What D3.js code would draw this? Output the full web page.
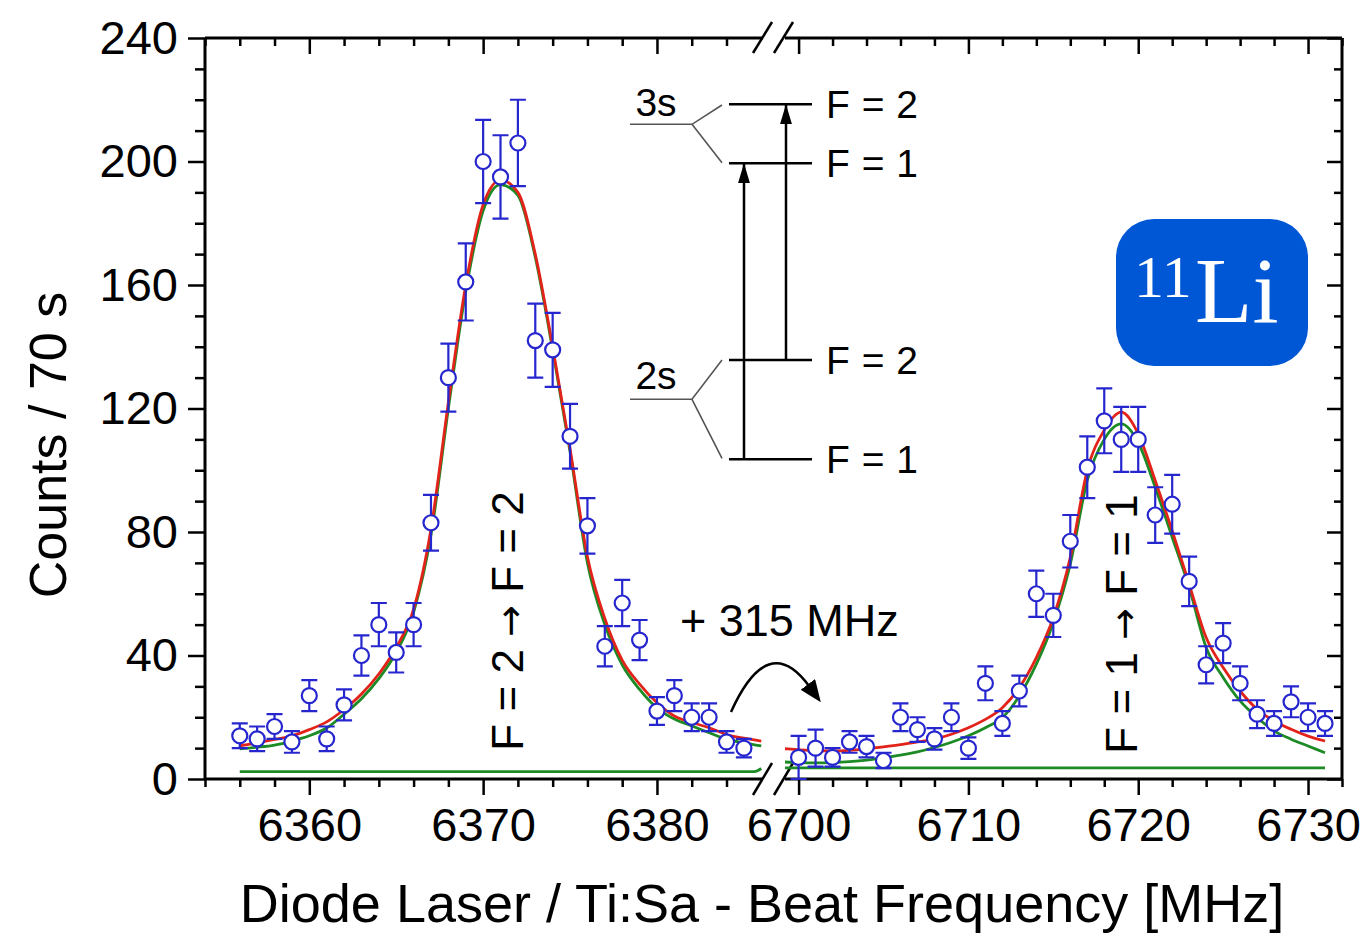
<!DOCTYPE html>
<html>
<head>
<meta charset="utf-8">
<script src="https://cdn.jsdelivr.net/npm/d3@7"></script>
<style>
  body { margin: 0; background: #fff; }
  svg { display: block; font-family: 'Liberation Sans', Arial, sans-serif; }
</style>
</head>
<body>
<div id="chart"></div>
<script>
// measured spectrum, left part (F=2 -> F=2)
const freqLeft = [6356, 6357, 6358, 6359, 6360, 6361, 6362, 6363, 6364, 6365, 6366, 6367, 6368, 6369, 6370,
  6371, 6372, 6373, 6374, 6375, 6376, 6377, 6378, 6379, 6380, 6381, 6382, 6383, 6384, 6385];
const countsLeft = [14, 13, 17, 12, 27, 13, 24, 40, 50, 41, 50, 83, 130, 161, 200,
  195, 206, 142, 139, 111, 82, 43, 57, 45, 22, 27, 20, 20, 12, 10];
const errLeft = [4, 4, 4, 3.5, 5, 4, 5, 6.5, 7, 6.5, 7, 9, 11, 12.5, 13.5,
  13.5, 14, 12, 12, 10.5, 9, 6.5, 7.5, 6.5, 4.5, 5, 4.5, 4.5, 3.5, 3];

// measured spectrum, right part (F=1 -> F=1)
const freqRight = [6700, 6701, 6702, 6703, 6704, 6705, 6706, 6707, 6708, 6709, 6710, 6711, 6712, 6713, 6714, 6715,
  6716, 6717, 6718, 6719, 6720, 6721, 6722, 6723, 6724, 6725, 6726, 6727, 6728, 6729, 6730, 6731];
const countsRight = [7, 10, 7, 12, 10.5, 6, 20, 16, 13, 20, 10, 31, 18, 28.5, 60, 53,
  77, 101, 116, 110, 110, 85.5, 89, 64, 37, 44, 31, 21, 18, 25, 20, 18];
const errRight = [7, 6, 3, 3.5, 3.5, 2.5, 4.5, 4, 3.5, 4.5, 3.5, 5.5, 4, 5, 7.5, 7,
  8.5, 10, 10.5, 10.5, 10.5, 9, 9.5, 8, 6, 6.5, 5.5, 4.5, 4, 5, 4.5, 4];

// fit curves
const fitLeftX = [6356, 6357, 6358, 6359, 6360, 6361, 6362, 6363, 6364, 6365, 6366, 6367, 6368, 6369, 6370, 6371,
  6372, 6373, 6374, 6375, 6376, 6377, 6378, 6379, 6380, 6381, 6382, 6383, 6384, 6385, 6386];
const redLeft = [10.7, 11.7, 12.8, 14, 16, 18.5, 22.5, 27.5, 34, 42.6, 55, 81, 122, 160, 186, 194,
  190, 170, 140, 107, 72, 52, 38.5, 30.7, 24.7, 20.4, 18.3, 16.6, 14.4, 13.2, 12.3];
const greenLeft = [9.8, 10.3, 11, 12.3, 14, 16.5, 21, 26, 32.5, 41, 54, 79, 120, 158, 184, 192.5,
  189, 169, 139, 106, 70, 50, 37, 29, 23, 19.4, 17.2, 15, 12.9, 11.7, 10.7];
const fitRightX = [6699.2, 6700, 6701, 6702, 6703, 6704, 6705, 6706, 6707, 6708, 6709, 6710, 6711, 6712, 6713, 6714,
  6715, 6716, 6717, 6718, 6719, 6720, 6721, 6722, 6723, 6724, 6725, 6726, 6727, 6728, 6729, 6730, 6731];
const redRight = [9.8, 9.5, 9.2, 9.1, 9.3, 9.8, 10.4, 11.1, 12, 12.9, 14.5, 16.6, 19.3, 23.1, 29.6, 39.3,
  52.3, 71.8, 100, 113, 118.8, 111.8, 96.7, 80.4, 63.1, 45.8, 36.1, 28.5, 22.6, 18.8, 16.1, 13.9, 12.3];
const greenRight = [5.5, 5.3, 5.2, 5.3, 5.6, 6.1, 6.9, 7.7, 8.8, 10.2, 11.9, 14, 16.6, 19.9, 26.9, 37.2,
  50.7, 69.6, 96.7, 110, 115, 109, 94.5, 78.3, 62, 42.6, 32.9, 25.3, 19.9, 15.6, 12.9, 10.7, 8.5];
const baseLeftX = [6356, 6385.6, 6386];
const baseLeftY = [2.4, 2.4, 3.4];
const baseRightX = [6699.2, 6731];
const baseRightY = [3.6, 3.6];

// ticks
const yMajor = [0, 40, 80, 120, 160, 200, 240];
const yMinor = [10, 20, 30, 50, 60, 70, 90, 100, 110, 130, 140, 150, 170, 180, 190, 210, 220, 230];
const xMajorLeft = [6360, 6370, 6380];
const xMinorLeft = [6354, 6356, 6358, 6362, 6364, 6366, 6368, 6372, 6374, 6376, 6378, 6382, 6384];
const xMajorRight = [6700, 6710, 6720, 6730];
const xMinorRight = [6702, 6704, 6706, 6708, 6712, 6714, 6716, 6718, 6722, 6724, 6726, 6728, 6732];

const W = 1365, H = 937;
const blue = '#2626cf', red = '#e2231a', green = '#1c8a25';

const svg = d3.select('#chart').append('svg')
  .attr('width', W)
  .attr('height', H);

const xL = d3.scaleLinear().domain([6354, 6386.1]).range([205, 763]);
const xR = d3.scaleLinear().domain([6699.2, 6732]).range([785, 1342]);
const y = d3.scaleLinear().domain([0, 240]).range([779, 38]);

const styleAxis = g => {
  g.select('.domain').remove();
  g.selectAll('line').attr('stroke', '#000').attr('stroke-width', 2.5);
  g.selectAll('text').attr('fill', '#000');
  g.attr('font-family', null);
};

/* 坐标轴: bottom (outward ticks) */
[[xL, xMajorLeft, xMinorLeft], [xR, xMajorRight, xMinorRight]].forEach(([sx, major, minor]) => {
  svg.append('g').attr('transform', 'translate(0,779)')
    .call(d3.axisBottom(sx).tickValues(minor).tickSize(8).tickFormat(''))
    .call(styleAxis);
  svg.append('g').attr('transform', 'translate(0,779)')
    .call(d3.axisBottom(sx).tickValues(major).tickSize(16).tickPadding(13).tickFormat(d3.format('d')))
    .call(styleAxis)
    .attr('font-size', 47);
  // top, ticks pointing inward
  svg.append('g').attr('transform', 'translate(0,38)')
    .call(d3.axisTop(sx).tickValues(minor).tickSize(-8).tickFormat(''))
    .call(styleAxis);
  svg.append('g').attr('transform', 'translate(0,38)')
    .call(d3.axisTop(sx).tickValues(major).tickSize(-16).tickFormat(''))
    .call(styleAxis);
});

/* left axis outward, right axis inward */
svg.append('g').attr('transform', 'translate(205,0)')
  .call(d3.axisLeft(y).tickValues(yMinor).tickSize(10).tickFormat(''))
  .call(styleAxis);
svg.append('g').attr('transform', 'translate(205,0)')
  .call(d3.axisLeft(y).tickValues(yMajor).tickSize(17).tickPadding(10))
  .call(styleAxis)
  .attr('font-size', 47);
svg.append('g').attr('transform', 'translate(1342,0)')
  .call(d3.axisRight(y).tickValues(yMinor).tickSize(-8).tickFormat(''))
  .call(styleAxis);
svg.append('g').attr('transform', 'translate(1342,0)')
  .call(d3.axisRight(y).tickValues(yMajor).tickSize(-15).tickFormat(''))
  .call(styleAxis);

/* frame with axis break */
const frame = svg.append('g').attr('stroke', '#000').attr('stroke-width', 3).attr('fill', 'none');
frame.append('path').attr('d', `M205,${y(240)}V${y(0)}M1342,${y(240)}V${y(0)}`);
[y(0), y(240)].forEach(yy => {
  frame.append('path').attr('d', `M${xL(6354)},${yy}H${xL(6386.1)}M${xR(6699.2)},${yy}H${xR(6732)}`);
});
const slash = svg.append('g').attr('stroke', '#000').attr('stroke-width', 2.5);
[[y(0) + 16, y(0) - 16], [y(240) + 15, y(240) - 16]].forEach(([y1, y2]) => {
  slash.append('line').attr('x1', 753).attr('y1', y1).attr('x2', 772).attr('y2', y2);
  slash.append('line').attr('x1', 774).attr('y1', y1).attr('x2', 793).attr('y2', y2);
});

/* fit curves */
const curve = (sx, xs, ys) => d3.line().x((d, i) => sx(xs[i])).y(d => y(d)).curve(d3.curveMonotoneX)(ys);
const fits = svg.append('g').attr('fill', 'none').attr('stroke-width', 2.8);
fits.append('path').attr('d', curve(xL, baseLeftX, baseLeftY)).attr('stroke', green);
fits.append('path').attr('d', curve(xR, baseRightX, baseRightY)).attr('stroke', green);
fits.append('path').attr('d', curve(xL, fitLeftX, greenLeft)).attr('stroke', green);
fits.append('path').attr('d', curve(xR, fitRightX, greenRight)).attr('stroke', green);
fits.append('path').attr('d', curve(xL, fitLeftX, redLeft)).attr('stroke', red);
fits.append('path').attr('d', curve(xR, fitRightX, redRight)).attr('stroke', red);

/* data points with error bars */
const points = freqLeft.map((f, i) => ({ sx: xL, f, c: countsLeft[i], e: errLeft[i] }))
  .concat(freqRight.map((f, i) => ({ sx: xR, f, c: countsRight[i], e: errRight[i] })));
const pt = svg.append('g').attr('class', 'points')
  .selectAll('g').data(points).enter().append('g')
  .attr('stroke', blue).attr('stroke-width', 2.2);
pt.append('path')
  .attr('fill', 'none')
  .attr('d', d => {
    const cx = d.sx(d.f), t = y(d.c + d.e), b = y(Math.max(0, d.c - d.e));
    return `M${cx},${t}V${b}M${cx - 8},${t}H${cx + 8}M${cx - 8},${b}H${cx + 8}`;
  });
pt.append('circle')
  .attr('cx', d => d.sx(d.f))
  .attr('cy', d => y(d.c))
  .attr('r', 7.5)
  .attr('fill', '#fff');

/* level scheme */
const defs = svg.append('defs');
defs.append('marker').attr('id', 'head').attr('viewBox', '0 0 20 12')
  .attr('markerWidth', 20).attr('markerHeight', 12).attr('refX', 20).attr('refY', 6)
  .attr('markerUnits', 'userSpaceOnUse').attr('orient', 'auto')
  .append('path').attr('d', 'M0,0L20,6L0,12Z').attr('fill', '#000');
defs.append('marker').attr('id', 'head2').attr('viewBox', '0 0 22 18')
  .attr('markerWidth', 22).attr('markerHeight', 18).attr('refX', 2).attr('refY', 9)
  .attr('markerUnits', 'userSpaceOnUse').attr('orient', 'auto')
  .append('path').attr('d', 'M0,0L22,9L0,18Z').attr('fill', '#000');

const scheme = svg.append('g').attr('class', 'scheme');
const levels = [104.3, 163.3, 360, 459.3];
const levelLabels = ['F = 2', 'F = 1', 'F = 2', 'F = 1'];
scheme.selectAll('.level').data(levels).enter().append('line')
  .attr('x1', 729).attr('x2', 812).attr('y1', d => d).attr('y2', d => d)
  .attr('stroke', '#000').attr('stroke-width', 2.5);
scheme.selectAll('.lvlabel').data(levels).enter().append('text')
  .attr('x', 826).attr('y', d => d).attr('dy', '.36em')
  .attr('font-size', 39).attr('word-spacing', 1).text((d, i) => levelLabels[i]);
[[124.3, 105, 162.7, '3s', 116], [399.3, 360, 458.3, '2s', 389]].forEach(([ym, yt, yb, lab, ty]) => {
  scheme.append('path')
    .attr('d', `M630,${ym}H692L722,${yt}M692,${ym}L722,${yb}`)
    .attr('fill', 'none').attr('stroke', '#555').attr('stroke-width', 1.6);
  scheme.append('text').attr('x', 656).attr('y', ty).attr('text-anchor', 'middle')
    .attr('font-size', 39).text(lab);
});
scheme.append('line').attr('x1', 744).attr('x2', 744).attr('y1', 459.3).attr('y2', 163.3)
  .attr('stroke', '#000').attr('stroke-width', 2.5).attr('marker-end', 'url(#head)');
scheme.append('line').attr('x1', 786).attr('x2', 786).attr('y1', 360).attr('y2', 104.3)
  .attr('stroke', '#000').attr('stroke-width', 2.5).attr('marker-end', 'url(#head)');

/* annotations */
svg.append('text').attr('x', 680).attr('y', 636).attr('font-size', 45).text('+ 315 MHz');
svg.append('path').attr('d', 'M731,712Q768,630 809,686')
  .attr('fill', 'none').attr('stroke', '#000').attr('stroke-width', 2.5)
  .attr('marker-end', 'url(#head2)');

const rotLabel = (tx, ty, a, b) => {
  const t = svg.append('text').attr('transform', `translate(${tx},${ty}) rotate(-90)`)
    .attr('text-anchor', 'middle').attr('font-size', 44);
  t.append('tspan').text(a + ' ');
  t.append('tspan').attr('font-family', "'DejaVu Sans', sans-serif").attr('font-size', 38).text('→');
  t.append('tspan').text(' ' + b);
};
rotLabel(523, 621, 'F = 2', 'F = 2');
rotLabel(1137, 624, 'F = 1', 'F = 1');

/* 11Li badge */
const badge = svg.append('g');
badge.append('rect').attr('x', 1116).attr('y', 219).attr('width', 192).attr('height', 147)
  .attr('rx', 38).attr('fill', '#0057d5');
badge.append('text').attr('x', 1134).attr('y', 297).attr('fill', '#fff')
  .attr('font-family', "'Liberation Serif', 'DejaVu Serif', serif").attr('font-size', 60).text('11');
badge.append('text').attr('x', 1195).attr('y', 322).attr('fill', '#fff')
  .attr('font-family', "'Liberation Serif', 'DejaVu Serif', serif").attr('font-size', 94).text('Li');

/* axis titles */
svg.append('text').attr('transform', 'translate(66,445) rotate(-90)')
  .attr('text-anchor', 'middle').attr('font-size', 52).text('Counts / 70 s');
svg.append('text').attr('x', 762).attr('y', 922)
  .attr('text-anchor', 'middle').attr('font-size', 54).text('Diode Laser / Ti:Sa - Beat Frequency [MHz]');
</script>
</body>
</html>
